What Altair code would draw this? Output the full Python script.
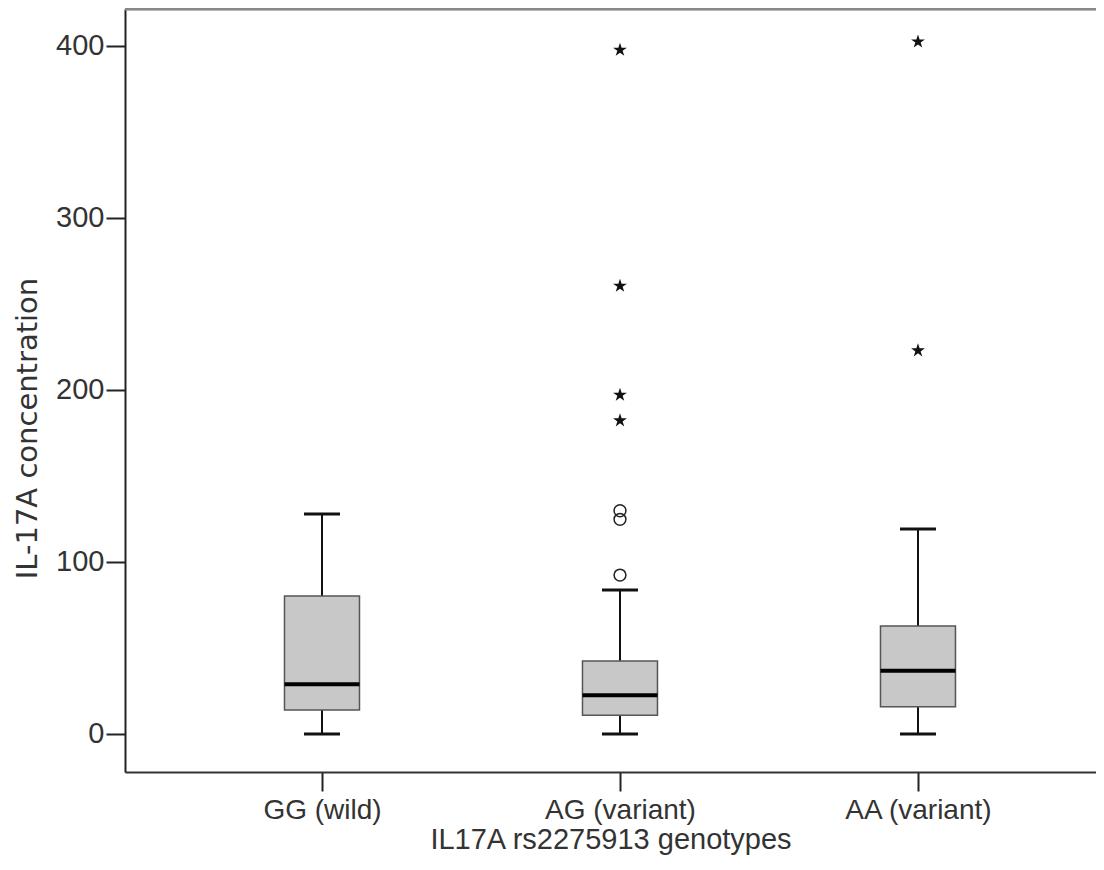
import altair as alt
import pandas as pd

# ---- data ----
groups = ["GG (wild)", "AG (variant)", "AA (variant)"]
whisker_low = [0.0, 0.0, 0.0]
q1 = [14.0, 10.9, 15.9]
median = [28.9, 22.5, 36.8]
q3 = [80.2, 42.4, 62.8]
whisker_high = [127.9, 83.7, 119.2]

outlier_groups = ["AG (variant)", "AG (variant)", "AG (variant)"]
outlier_values = [92.4, 124.8, 129.8]

extreme_groups = ["AG (variant)", "AG (variant)", "AG (variant)", "AG (variant)",
                  "AA (variant)", "AA (variant)"]
extreme_values = [397.7, 260.5, 197.1, 182.2, 402.5, 222.9]

y_ticks = [0, 100, 200, 300, 400]

box_df = pd.DataFrame({"group": groups, "lo": whisker_low, "q1": q1,
                       "median": median, "q3": q3, "hi": whisker_high})
out_df = pd.DataFrame({"group": outlier_groups, "value": outlier_values})
ext_df = pd.DataFrame({"group": extreme_groups, "value": extreme_values})

FONT = "Liberation Sans"
TXT = "#333333"
STAR = ("M0,-1 L0.225,-0.309 L0.951,-0.309 L0.363,0.118 L0.588,0.809 "
        "L0,0.382 L-0.588,0.809 L-0.363,0.118 L-0.951,-0.309 L-0.225,-0.309 Z")

x_scale = alt.Scale(domain=groups, type="point", padding=0.6292, align=0.5253)
y_scale = alt.Scale(domain=[-22.1, 421.5], nice=False, zero=False)

x_axis = alt.Axis(title="IL17A rs2275913 genotypes", labelFontSize=28, titleFontSize=29,
                  labelAngle=0, tickSize=19, labelPadding=5, labelColor=TXT,
                  titleColor=TXT, titleFontWeight="normal", titleBaseline="alphabetic",
                  titleY=76, domainColor="#333333", domainWidth=2, tickColor="#222222",
                  tickWidth=2, grid=False, labelFont=FONT, titleFont=FONT)
y_axis = alt.Axis(title="IL-17A concentration", values=y_ticks, labelFontSize=29,
                  titleFontSize=29, tickSize=19, labelPadding=2, labelColor=TXT,
                  titleColor=TXT, titleFontWeight="normal", titleAngle=270,
                  titleX=-89, titleY=419, titleAlign="center",
                  titleBaseline="alphabetic", domainColor="#222222", domainWidth=2,
                  tickColor="#222222", tickWidth=2, grid=False,
                  labelFont=FONT, titleFont="DejaVu Sans")

X = alt.X("group:N", scale=x_scale, axis=x_axis, sort=groups)

frame_top = alt.Chart(box_df).mark_rule(color="#888888", strokeWidth=2.5).encode(
    x=alt.value(0), x2=alt.value("width"), y=alt.value(0))
whiskers = alt.Chart(box_df).mark_rule(color="#111111", strokeWidth=2).encode(
    x=X, y=alt.Y("lo:Q", scale=y_scale, axis=y_axis), y2="hi:Q")
cap_lo = alt.Chart(box_df).mark_tick(color="#111111", size=36, thickness=3,
                                     orient="horizontal", opacity=1).encode(
    x=X, y=alt.Y("lo:Q", scale=y_scale))
cap_hi = alt.Chart(box_df).mark_tick(color="#111111", size=36, thickness=3,
                                     orient="horizontal", opacity=1).encode(
    x=X, y=alt.Y("hi:Q", scale=y_scale))
boxes = alt.Chart(box_df).mark_bar(size=75, fill="#c8c8c8", stroke="#555555",
                                   strokeWidth=1.5, opacity=1).encode(
    x=X, y=alt.Y("q1:Q", scale=y_scale), y2="q3:Q")
medians = alt.Chart(box_df).mark_tick(color="#000000", size=75, thickness=4,
                                      orient="horizontal", opacity=1).encode(
    x=X, y=alt.Y("median:Q", scale=y_scale))
outliers = alt.Chart(out_df).mark_point(shape="circle", filled=False, size=140,
                                        color="#222222", strokeWidth=1.5,
                                        opacity=1).encode(
    x=X, y=alt.Y("value:Q", scale=y_scale))
extremes = alt.Chart(ext_df).mark_point(shape=STAR, filled=True, size=210,
                                        color="#111111", opacity=1).encode(
    x=X, y=alt.Y("value:Q", scale=y_scale))

chart = alt.layer(whiskers, cap_lo, cap_hi, boxes, medians, outliers, extremes,
                  frame_top).properties(
    width=971, height=763,
    autosize=alt.AutoSizeParams(type="none"),
    padding={"left": 117, "top": 1, "right": 0, "bottom": 90},
    background="white",
).configure_view(stroke=None).configure(font=FONT)

chart.save("out.html", embed_options={"renderer": "svg", "actions": False})
